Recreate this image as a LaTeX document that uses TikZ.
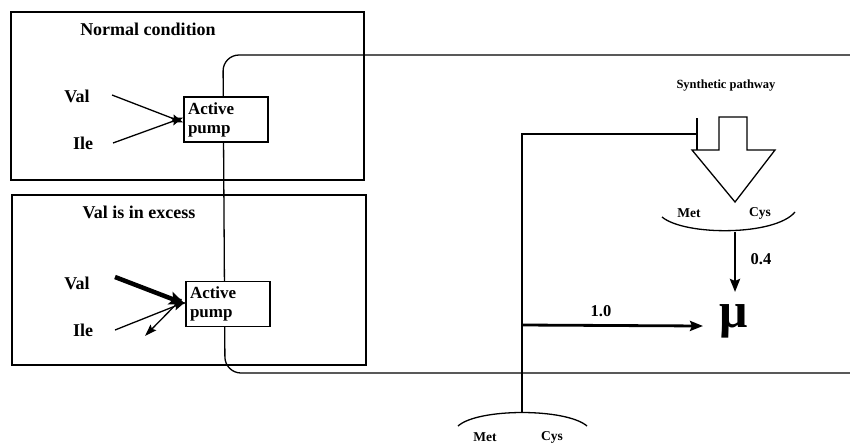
\documentclass[tikz,border=0pt]{standalone}
\usepackage{fontspec}
\setmainfont{Liberation Serif}
\usetikzlibrary{arrows.meta,calc}
\begin{document}
\begin{tikzpicture}[x=1pt,y=-1pt,line join=miter,
  ln/.style={line width=1.3pt},
  lbl/.style={font=\bfseries\fontsize{18}{19}\selectfont,inner sep=0pt},
  sml/.style={font=\bfseries\fontsize{13.5}{14}\selectfont,inner sep=0pt},
  pumpbox/.style={draw,line width=1.3pt,fill=white,minimum width=84pt,minimum height=45pt,
     text width=76pt,align=left,inner xsep=4pt,inner ysep=2pt,
     font=\bfseries\fontsize{17}{19}\selectfont},
  arr/.style={line width=1.3pt,-{Stealth[length=12pt,width=8pt,inset=2pt]}},
  tharr/.style={line width=2.8pt,-{Stealth[length=13pt,width=10pt,inset=2pt]}}]
\useasboundingbox (0,0) rectangle (850,445);
% condition boxes
\draw[ln] (11,12) rectangle (364,180);
\draw[ln] (12,195) rectangle (366,365);
% membrane
\draw[ln,rounded corners=16pt] (852,55) -- (223,55) -- (225,373) -- (852,373);
% pumps
\node[pumpbox] (pump1) at (226,119.5) {Active\\pump};
\node[pumpbox] (pump2) at (228,304) {Active\\pump};
% titles
\node[lbl] (tN) at (148,29) {Normal condition};
\node[lbl] (tE) at (139,212) {Val is in excess};
% normal condition
\node[lbl] (val1) at (77,96) {Val};
\node[lbl] (ile1) at (83,143) {Ile};
\coordinate (v1s) at (112,95);
\coordinate (i1s) at (113,143);
\draw[arr] (v1s) -- ([yshift=-3pt]pump1.west);
\draw[arr] (i1s) -- ([yshift=2pt]pump1.west);
% excess
\node[lbl] (val2) at (77,283) {Val};
\node[lbl] (ile2) at (83,330) {Ile};
\coordinate (v2s) at (115,277);
\coordinate (i2s) at (115,330);
\coordinate (eff) at (145,336);
\draw[line width=4.5pt,-{Stealth[length=16pt,width=13pt,inset=3pt]}] (v2s) -- ([yshift=0pt]pump2.west);
\draw[arr] (i2s) -- ([yshift=2pt]pump2.west);
\draw[arr] ([xshift=-4pt,yshift=5pt]pump2.west) -- (eff);
% synthetic pathway
\node[font=\bfseries\fontsize{12.5}{13}\selectfont,inner sep=0pt] (syn) at (726,86) {Synthetic pathway};
\draw[ln,fill=white] (719,117) -- (747,117) -- (747,150) -- (775,150) -- (735,202) -- (692,150) -- (719,150) -- cycle;
\node[sml] (met1) at (689,213) {Met};
\node[sml] (cys1) at (760,213) {Cys};
\coordinate (a1l) at (662,217);
\coordinate (a1r) at (795,212);
\coordinate (m1) at (735,232);
\draw[ln] (a1l) .. controls (685,236) and (775,236) .. (a1r);
\node[font=\bfseries\fontsize{50}{50}\selectfont,inner sep=0pt] (mu) at (734,321) {μ};
\draw[tharr] (m1) -- (735,292);
\node[lbl,font=\bfseries\fontsize{16.5}{17}\selectfont] (l04) at (761,259) {0.4};
% feedback from bottom pool
\coordinate (b1) at (522,412);
\coordinate (b2) at (522,134);
\coordinate (b3) at (522,325);
\draw[ln,-{Bar[width=32pt,line width=2.2pt]}] (b1) -- (b2) -- (698,134);
\draw[tharr] (b3) -- (703,326);
\node[lbl,font=\bfseries\fontsize{16.5}{17}\selectfont] (l10) at (601,311) {1.0};
\draw[ln] (458,426) .. controls (478,408) and (566,408) .. (587,426);
\node[sml] (met2) at (485,437) {Met};
\node[sml] (cys2) at (552,437) {Cys};
\end{tikzpicture}
\end{document}
